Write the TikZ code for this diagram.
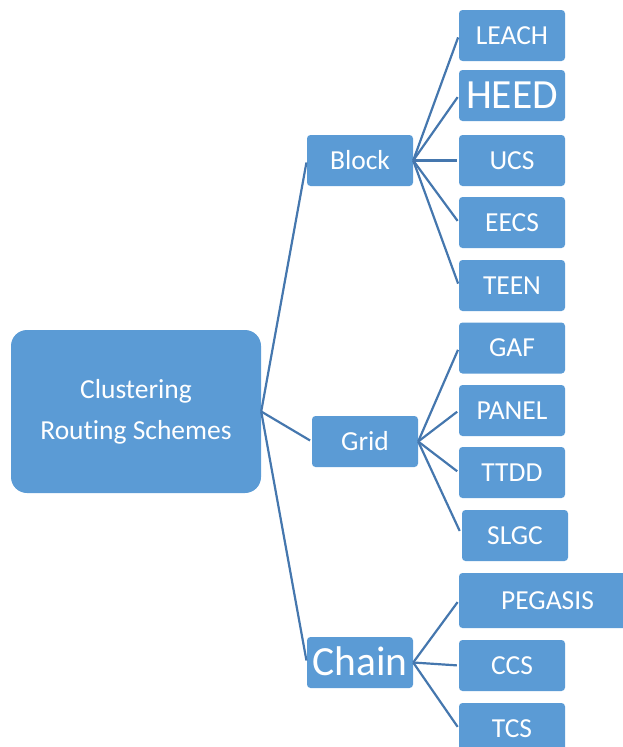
\documentclass[tikz,border=0pt]{standalone}
\usepackage{fontspec}
\setmainfont{Carlito}[Ligatures=NoCommon]
\definecolor{boxfill}{HTML}{5B9BD5}
\definecolor{linkcol}{HTML}{4577AE}
\begin{document}
\begin{tikzpicture}[x=1pt,y=-1pt,
  item/.style={draw=none,fill=boxfill,text=white,rounded corners=3.5pt,inner sep=0pt,
    minimum width=106pt,minimum height=51pt,font=\fontsize{27.5}{33}\selectfont,
    text height=17.7pt,text depth=0pt},
  bigitem/.style={item,font=\fontsize{41.5}{48}\selectfont,text height=26.7pt},
  rootbox/.style={fill=boxfill,text=white,rounded corners=16pt,inner sep=0pt,
    minimum width=250pt,minimum height=163pt,align=center,
    font=\fontsize{27.5}{41}\selectfont},
  link/.style={draw=linkcol,line width=2.2pt,shorten >=2pt}]
\useasboundingbox (0,0) rectangle (623,747);
\clip (0,0) rectangle (623,747);
\node[rootbox] (root) at (136,411.5) {Clustering\\Routing Schemes};
\node[item] (block) at (360,160.5) {Block};
\node[item] (grid) at (365,441.5) {Grid};
\node[bigitem] (chain) at (360,662.5) {Chain};
\node[item] (leach) at (512,35.5) {LEACH};
\node[bigitem] (heed) at (512,95.5) {HEED};
\node[item] (ucs) at (512,160.5) {UCS};
\node[item] (eecs) at (512,222.5) {EECS};
\node[item] (teen) at (512,285.5) {TEEN};
\node[item] (gaf) at (512,348) {GAF};
\node[item] (panel) at (512,410.5) {PANEL};
\node[item] (ttdd) at (512,472.5) {TTDD};
\node[item] (slgc) at (515,535.5) {SLGC};
\node[item,minimum width=177pt,minimum height=55pt] (pegasis) at (547.5,600.5) {PEGASIS};
\node[item] (ccs) at (512,665.5) {CCS};
\node[item] (tcs) at (512,728.5) {TCS};
\draw[link] (root.east) -- (block.west);
\draw[link] (root.east) -- (grid.west);
\draw[link] (root.east) -- (chain.west);
\foreach \c in {leach,heed,ucs,eecs,teen}{\draw[link] (block.east) -- (\c.west);}
\foreach \c in {gaf,panel,ttdd}{\draw[link] (grid.east) -- (\c.west);}
\draw[link,shorten >=5pt] (grid.east) -- (slgc.west);
\foreach \c in {pegasis,ccs,tcs}{\draw[link] (chain.east) -- (\c.west);}
\end{tikzpicture}
\end{document}
